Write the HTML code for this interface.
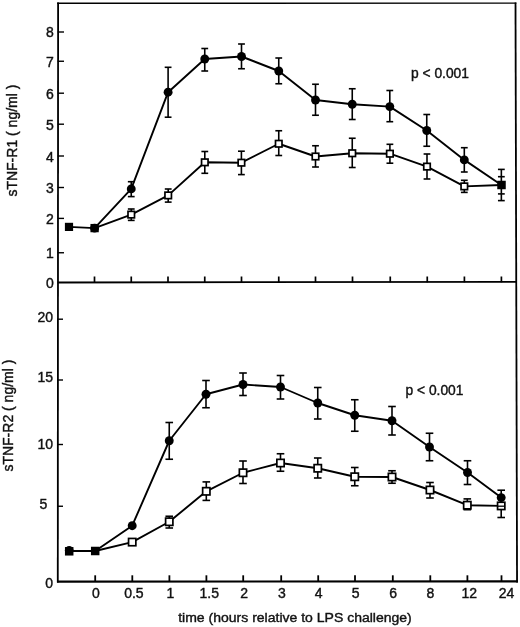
<!DOCTYPE html>
<html lang="en"><head><meta charset="utf-8"><title>sTNF-R1 and sTNF-R2 after LPS challenge</title>
<style>
html,body{margin:0;padding:0;background:#fff;}
body{width:520px;height:627px;overflow:hidden;}
svg{display:block;font-family:"Liberation Sans", Arial, Helvetica, sans-serif;fill:#111;}
text{stroke:#111;stroke-width:0.4px;}
</style></head><body>
<svg width="520" height="627" viewBox="0 0 520 627">
<rect x="0" y="0" width="520" height="627" fill="#fff"/>
<line x1="58.1" y1="2.6" x2="57.8" y2="582.5" stroke="#000" stroke-width="1.8"/>
<line x1="57.1" y1="3.3" x2="516.4" y2="3.1" stroke="#000" stroke-width="1.4"/>
<line x1="515.5" y1="2.5" x2="517.05" y2="582.4" stroke="#000" stroke-width="1.8"/>
<line x1="57" y1="581.6" x2="518" y2="581.4" stroke="#000" stroke-width="2.1"/>
<line x1="57.75" y1="282.5" x2="516" y2="281.8" stroke="#000" stroke-width="1.8"/>
<line x1="57.75" y1="32" x2="64" y2="32" stroke="#000" stroke-width="1.4"/>
<text x="53.8" y="37.3" text-anchor="end" font-size="14" >8</text>
<line x1="57.75" y1="61.25" x2="64" y2="61.25" stroke="#000" stroke-width="1.4"/>
<text x="53.8" y="66.75" text-anchor="end" font-size="14" >7</text>
<line x1="57.75" y1="93.2" x2="64" y2="93.2" stroke="#000" stroke-width="1.4"/>
<text x="53.8" y="98.7" text-anchor="end" font-size="14" >6</text>
<line x1="57.75" y1="124.2" x2="64" y2="124.2" stroke="#000" stroke-width="1.4"/>
<text x="53.8" y="129.7" text-anchor="end" font-size="14" >5</text>
<line x1="57.75" y1="156" x2="64" y2="156" stroke="#000" stroke-width="1.4"/>
<text x="53.8" y="161.5" text-anchor="end" font-size="14" >4</text>
<line x1="57.75" y1="187.5" x2="64" y2="187.5" stroke="#000" stroke-width="1.4"/>
<text x="53.8" y="193.0" text-anchor="end" font-size="14" >3</text>
<line x1="57.75" y1="218.4" x2="64" y2="218.4" stroke="#000" stroke-width="1.4"/>
<text x="53.8" y="223.9" text-anchor="end" font-size="14" >2</text>
<line x1="57.75" y1="252.75" x2="64" y2="252.75" stroke="#000" stroke-width="1.4"/>
<text x="53.8" y="258.25" text-anchor="end" font-size="14" >1</text>
<text x="53.8" y="288.2" text-anchor="end" font-size="14" >0</text>
<line x1="57.75" y1="319.2" x2="63" y2="319.2" stroke="#000" stroke-width="1.4"/>
<text x="53" y="322.2" text-anchor="end" font-size="14" >20</text>
<line x1="57.75" y1="380" x2="63" y2="380" stroke="#000" stroke-width="1.4"/>
<text x="53" y="381.5" text-anchor="end" font-size="14" >15</text>
<line x1="57.75" y1="444.5" x2="63" y2="444.5" stroke="#000" stroke-width="1.4"/>
<text x="53" y="448.5" text-anchor="end" font-size="14" >10</text>
<line x1="57.75" y1="506.25" x2="63" y2="506.25" stroke="#000" stroke-width="1.4"/>
<text x="47.2" y="508.55" text-anchor="end" font-size="14" >5</text>
<text x="53.0" y="588" text-anchor="end" font-size="14" >0</text>
<line x1="94.5" y1="276.5" x2="94.5" y2="282.3" stroke="#000" stroke-width="1.7"/>
<line x1="131.25" y1="276.5" x2="131.25" y2="282.3" stroke="#000" stroke-width="1.7"/>
<line x1="168" y1="276.5" x2="168" y2="282.3" stroke="#000" stroke-width="1.7"/>
<line x1="204.75" y1="276.5" x2="204.75" y2="282.3" stroke="#000" stroke-width="1.7"/>
<line x1="241.5" y1="276.5" x2="241.5" y2="282.3" stroke="#000" stroke-width="1.7"/>
<line x1="278.75" y1="276.5" x2="278.75" y2="282.3" stroke="#000" stroke-width="1.7"/>
<line x1="315.5" y1="276.5" x2="315.5" y2="282.3" stroke="#000" stroke-width="1.7"/>
<line x1="352.5" y1="276.5" x2="352.5" y2="282.3" stroke="#000" stroke-width="1.7"/>
<line x1="390.25" y1="276.5" x2="390.25" y2="282.3" stroke="#000" stroke-width="1.7"/>
<line x1="427.25" y1="276.5" x2="427.25" y2="282.3" stroke="#000" stroke-width="1.7"/>
<line x1="464.4" y1="276.5" x2="464.4" y2="282.3" stroke="#000" stroke-width="1.7"/>
<line x1="501.4" y1="276.5" x2="501.4" y2="282.3" stroke="#000" stroke-width="1.7"/>
<line x1="95.2" y1="575.3" x2="95.2" y2="581.5" stroke="#000" stroke-width="1.8"/>
<text x="95.8" y="598.0" text-anchor="middle" font-size="14" >0</text>
<line x1="132.3" y1="575.3" x2="132.3" y2="581.5" stroke="#000" stroke-width="1.8"/>
<text x="133.9" y="598.0" text-anchor="middle" font-size="14" >0.5</text>
<line x1="169.4" y1="575.3" x2="169.4" y2="581.5" stroke="#000" stroke-width="1.8"/>
<text x="170.3" y="598.0" text-anchor="middle" font-size="14" >1</text>
<line x1="206.4" y1="575.3" x2="206.4" y2="581.5" stroke="#000" stroke-width="1.8"/>
<text x="209.2" y="598.0" text-anchor="middle" font-size="14" >1.5</text>
<line x1="243.2" y1="575.3" x2="243.2" y2="581.5" stroke="#000" stroke-width="1.8"/>
<text x="244.1" y="598.0" text-anchor="middle" font-size="14" >2</text>
<line x1="281.2" y1="575.3" x2="281.2" y2="581.5" stroke="#000" stroke-width="1.8"/>
<text x="281.9" y="598.0" text-anchor="middle" font-size="14" >3</text>
<line x1="318.2" y1="575.3" x2="318.2" y2="581.5" stroke="#000" stroke-width="1.8"/>
<text x="318.7" y="598.0" text-anchor="middle" font-size="14" >4</text>
<line x1="355" y1="575.3" x2="355" y2="581.5" stroke="#000" stroke-width="1.8"/>
<text x="355.6" y="598.0" text-anchor="middle" font-size="14" >5</text>
<line x1="392.8" y1="575.3" x2="392.8" y2="581.5" stroke="#000" stroke-width="1.8"/>
<text x="393.2" y="598.0" text-anchor="middle" font-size="14" >6</text>
<line x1="430.3" y1="575.3" x2="430.3" y2="581.5" stroke="#000" stroke-width="1.8"/>
<text x="430.4" y="598.0" text-anchor="middle" font-size="14" >8</text>
<line x1="467.4" y1="575.3" x2="467.4" y2="581.5" stroke="#000" stroke-width="1.8"/>
<text x="469.2" y="598.0" text-anchor="middle" font-size="14" >12</text>
<line x1="501.5" y1="575.3" x2="501.5" y2="581.5" stroke="#000" stroke-width="1.8"/>
<text x="506.5" y="598.0" text-anchor="middle" font-size="14" >24</text>
<polyline points="69,226.9 94.6,228.1 131.25,188.9 168.1,92.2 204.75,59 241.5,56.5 278.75,71 315.5,100 352.25,104.25 389.8,106.6 426.75,130.5 464.3,159.9 501.4,185" fill="none" stroke="#000" stroke-width="1.9" stroke-linejoin="round"/>
<polyline points="94.6,228.1 131.25,214.6 168.2,195.4 204.8,162.3 241.4,162.7 278.75,143.75 315.5,156.5 352.25,153.25 389.9,153.7 427,166.6 464.3,186.4 501.4,185" fill="none" stroke="#000" stroke-width="1.9" stroke-linejoin="round"/>
<line x1="131.25" y1="181.7" x2="131.25" y2="196.6" stroke="#000" stroke-width="1.6"/>
<line x1="127.85" y1="181.7" x2="134.65" y2="181.7" stroke="#000" stroke-width="1.6"/>
<line x1="127.85" y1="196.6" x2="134.65" y2="196.6" stroke="#000" stroke-width="1.6"/>
<line x1="168.1" y1="67.3" x2="168.1" y2="117.2" stroke="#000" stroke-width="1.6"/>
<line x1="164.7" y1="67.3" x2="171.5" y2="67.3" stroke="#000" stroke-width="1.6"/>
<line x1="164.7" y1="117.2" x2="171.5" y2="117.2" stroke="#000" stroke-width="1.6"/>
<line x1="204.75" y1="48.5" x2="204.75" y2="71" stroke="#000" stroke-width="1.6"/>
<line x1="201.35" y1="48.5" x2="208.15" y2="48.5" stroke="#000" stroke-width="1.6"/>
<line x1="201.35" y1="71" x2="208.15" y2="71" stroke="#000" stroke-width="1.6"/>
<line x1="241.5" y1="44" x2="241.5" y2="68.75" stroke="#000" stroke-width="1.6"/>
<line x1="238.1" y1="44" x2="244.9" y2="44" stroke="#000" stroke-width="1.6"/>
<line x1="238.1" y1="68.75" x2="244.9" y2="68.75" stroke="#000" stroke-width="1.6"/>
<line x1="278.75" y1="58" x2="278.75" y2="83.75" stroke="#000" stroke-width="1.6"/>
<line x1="275.35" y1="58" x2="282.15" y2="58" stroke="#000" stroke-width="1.6"/>
<line x1="275.35" y1="83.75" x2="282.15" y2="83.75" stroke="#000" stroke-width="1.6"/>
<line x1="315.5" y1="84.25" x2="315.5" y2="115.25" stroke="#000" stroke-width="1.6"/>
<line x1="312.1" y1="84.25" x2="318.9" y2="84.25" stroke="#000" stroke-width="1.6"/>
<line x1="312.1" y1="115.25" x2="318.9" y2="115.25" stroke="#000" stroke-width="1.6"/>
<line x1="352.25" y1="88.75" x2="352.25" y2="119.5" stroke="#000" stroke-width="1.6"/>
<line x1="348.85" y1="88.75" x2="355.65" y2="88.75" stroke="#000" stroke-width="1.6"/>
<line x1="348.85" y1="119.5" x2="355.65" y2="119.5" stroke="#000" stroke-width="1.6"/>
<line x1="389.8" y1="90.5" x2="389.8" y2="121.7" stroke="#000" stroke-width="1.6"/>
<line x1="386.40000000000003" y1="90.5" x2="393.2" y2="90.5" stroke="#000" stroke-width="1.6"/>
<line x1="386.40000000000003" y1="121.7" x2="393.2" y2="121.7" stroke="#000" stroke-width="1.6"/>
<line x1="426.75" y1="114.5" x2="426.75" y2="146.25" stroke="#000" stroke-width="1.6"/>
<line x1="423.35" y1="114.5" x2="430.15" y2="114.5" stroke="#000" stroke-width="1.6"/>
<line x1="423.35" y1="146.25" x2="430.15" y2="146.25" stroke="#000" stroke-width="1.6"/>
<line x1="464.3" y1="147.7" x2="464.3" y2="172" stroke="#000" stroke-width="1.6"/>
<line x1="460.90000000000003" y1="147.7" x2="467.7" y2="147.7" stroke="#000" stroke-width="1.6"/>
<line x1="460.90000000000003" y1="172" x2="467.7" y2="172" stroke="#000" stroke-width="1.6"/>
<line x1="131.25" y1="209" x2="131.25" y2="220.4" stroke="#000" stroke-width="1.6"/>
<line x1="127.85" y1="209" x2="134.65" y2="209" stroke="#000" stroke-width="1.6"/>
<line x1="127.85" y1="220.4" x2="134.65" y2="220.4" stroke="#000" stroke-width="1.6"/>
<line x1="168.2" y1="189" x2="168.2" y2="202.1" stroke="#000" stroke-width="1.6"/>
<line x1="164.79999999999998" y1="189" x2="171.6" y2="189" stroke="#000" stroke-width="1.6"/>
<line x1="164.79999999999998" y1="202.1" x2="171.6" y2="202.1" stroke="#000" stroke-width="1.6"/>
<line x1="204.8" y1="151.5" x2="204.8" y2="173.3" stroke="#000" stroke-width="1.6"/>
<line x1="201.4" y1="151.5" x2="208.20000000000002" y2="151.5" stroke="#000" stroke-width="1.6"/>
<line x1="201.4" y1="173.3" x2="208.20000000000002" y2="173.3" stroke="#000" stroke-width="1.6"/>
<line x1="241.4" y1="151.2" x2="241.4" y2="174.6" stroke="#000" stroke-width="1.6"/>
<line x1="238.0" y1="151.2" x2="244.8" y2="151.2" stroke="#000" stroke-width="1.6"/>
<line x1="238.0" y1="174.6" x2="244.8" y2="174.6" stroke="#000" stroke-width="1.6"/>
<line x1="278.75" y1="130.75" x2="278.75" y2="155.5" stroke="#000" stroke-width="1.6"/>
<line x1="275.35" y1="130.75" x2="282.15" y2="130.75" stroke="#000" stroke-width="1.6"/>
<line x1="275.35" y1="155.5" x2="282.15" y2="155.5" stroke="#000" stroke-width="1.6"/>
<line x1="315.5" y1="145.75" x2="315.5" y2="167" stroke="#000" stroke-width="1.6"/>
<line x1="312.1" y1="145.75" x2="318.9" y2="145.75" stroke="#000" stroke-width="1.6"/>
<line x1="312.1" y1="167" x2="318.9" y2="167" stroke="#000" stroke-width="1.6"/>
<line x1="352.25" y1="138.25" x2="352.25" y2="167.5" stroke="#000" stroke-width="1.6"/>
<line x1="348.85" y1="138.25" x2="355.65" y2="138.25" stroke="#000" stroke-width="1.6"/>
<line x1="348.85" y1="167.5" x2="355.65" y2="167.5" stroke="#000" stroke-width="1.6"/>
<line x1="389.9" y1="144.3" x2="389.9" y2="163.2" stroke="#000" stroke-width="1.6"/>
<line x1="386.5" y1="144.3" x2="393.29999999999995" y2="144.3" stroke="#000" stroke-width="1.6"/>
<line x1="386.5" y1="163.2" x2="393.29999999999995" y2="163.2" stroke="#000" stroke-width="1.6"/>
<line x1="427" y1="154" x2="427" y2="179" stroke="#000" stroke-width="1.6"/>
<line x1="423.6" y1="154" x2="430.4" y2="154" stroke="#000" stroke-width="1.6"/>
<line x1="423.6" y1="179" x2="430.4" y2="179" stroke="#000" stroke-width="1.6"/>
<line x1="464.3" y1="180.3" x2="464.3" y2="192.4" stroke="#000" stroke-width="1.6"/>
<line x1="460.90000000000003" y1="180.3" x2="467.7" y2="180.3" stroke="#000" stroke-width="1.6"/>
<line x1="460.90000000000003" y1="192.4" x2="467.7" y2="192.4" stroke="#000" stroke-width="1.6"/>
<line x1="501.35" y1="169.4" x2="501.35" y2="200.6" stroke="#000" stroke-width="1.6"/>
<line x1="497.95000000000005" y1="169.4" x2="504.75" y2="169.4" stroke="#000" stroke-width="1.6"/>
<line x1="497.95000000000005" y1="200.6" x2="504.75" y2="200.6" stroke="#000" stroke-width="1.6"/>
<line x1="497.95000000000005" y1="176.7" x2="504.75" y2="176.7" stroke="#000" stroke-width="1.6"/>
<line x1="497.95000000000005" y1="193.9" x2="504.75" y2="193.9" stroke="#000" stroke-width="1.6"/>
<rect x="128.0" y="211.35" width="6.5" height="6.5" fill="#fff" stroke="#000" stroke-width="1.7"/>
<rect x="164.95" y="192.15" width="6.5" height="6.5" fill="#fff" stroke="#000" stroke-width="1.7"/>
<rect x="201.55" y="159.05" width="6.5" height="6.5" fill="#fff" stroke="#000" stroke-width="1.7"/>
<rect x="238.15" y="159.45" width="6.5" height="6.5" fill="#fff" stroke="#000" stroke-width="1.7"/>
<rect x="275.5" y="140.5" width="6.5" height="6.5" fill="#fff" stroke="#000" stroke-width="1.7"/>
<rect x="312.25" y="153.25" width="6.5" height="6.5" fill="#fff" stroke="#000" stroke-width="1.7"/>
<rect x="349.0" y="150.0" width="6.5" height="6.5" fill="#fff" stroke="#000" stroke-width="1.7"/>
<rect x="386.65" y="150.45" width="6.5" height="6.5" fill="#fff" stroke="#000" stroke-width="1.7"/>
<rect x="423.75" y="163.35" width="6.5" height="6.5" fill="#fff" stroke="#000" stroke-width="1.7"/>
<rect x="461.05" y="183.15" width="6.5" height="6.5" fill="#fff" stroke="#000" stroke-width="1.7"/>
<circle cx="131.25" cy="188.9" r="4.45" fill="#000"/>
<circle cx="168.1" cy="92.2" r="4.45" fill="#000"/>
<circle cx="204.75" cy="59" r="4.45" fill="#000"/>
<circle cx="241.5" cy="56.5" r="4.45" fill="#000"/>
<circle cx="278.75" cy="71" r="4.45" fill="#000"/>
<circle cx="315.5" cy="100" r="4.45" fill="#000"/>
<circle cx="352.25" cy="104.25" r="4.45" fill="#000"/>
<circle cx="389.8" cy="106.6" r="4.45" fill="#000"/>
<circle cx="426.75" cy="130.5" r="4.45" fill="#000"/>
<circle cx="464.3" cy="159.9" r="4.45" fill="#000"/>
<rect x="65.75" y="223.65" width="6.5" height="6.5" fill="#000" stroke="#000" stroke-width="1.7"/>
<rect x="91.3" y="224.79999999999998" width="6.6" height="6.6" fill="#000" stroke="#000" stroke-width="1.7"/>
<circle cx="94.6" cy="228.1" r="4.45" fill="#000"/>
<rect x="498.1" y="181.6" width="6.8" height="6.8" fill="#000" stroke="#000" stroke-width="1.7"/>
<polyline points="69.2,551 95.2,551 132.2,525.7 169.25,440.75 206,394.25 243,384.5 280.5,387 317.75,403 354.75,415.25 392,420.75 429.5,447 467.5,472.5 501.2,497.6" fill="none" stroke="#000" stroke-width="1.9" stroke-linejoin="round"/>
<polyline points="95.2,551 132.2,542.1 169.25,521.75 206.3,491.3 243,472.75 280.5,463 317.75,468.25 354.75,476.75 392,477 430,490 467.3,505.2 501.2,505.9" fill="none" stroke="#000" stroke-width="1.9" stroke-linejoin="round"/>
<line x1="169.25" y1="422.5" x2="169.25" y2="459.25" stroke="#000" stroke-width="1.6"/>
<line x1="165.45" y1="422.5" x2="173.05" y2="422.5" stroke="#000" stroke-width="1.6"/>
<line x1="165.45" y1="459.25" x2="173.05" y2="459.25" stroke="#000" stroke-width="1.6"/>
<line x1="206" y1="380.5" x2="206" y2="407.75" stroke="#000" stroke-width="1.6"/>
<line x1="202.2" y1="380.5" x2="209.8" y2="380.5" stroke="#000" stroke-width="1.6"/>
<line x1="202.2" y1="407.75" x2="209.8" y2="407.75" stroke="#000" stroke-width="1.6"/>
<line x1="243" y1="373" x2="243" y2="395.5" stroke="#000" stroke-width="1.6"/>
<line x1="239.2" y1="373" x2="246.8" y2="373" stroke="#000" stroke-width="1.6"/>
<line x1="239.2" y1="395.5" x2="246.8" y2="395.5" stroke="#000" stroke-width="1.6"/>
<line x1="280.5" y1="375.5" x2="280.5" y2="399" stroke="#000" stroke-width="1.6"/>
<line x1="276.7" y1="375.5" x2="284.3" y2="375.5" stroke="#000" stroke-width="1.6"/>
<line x1="276.7" y1="399" x2="284.3" y2="399" stroke="#000" stroke-width="1.6"/>
<line x1="317.75" y1="387.5" x2="317.75" y2="419" stroke="#000" stroke-width="1.6"/>
<line x1="313.95" y1="387.5" x2="321.55" y2="387.5" stroke="#000" stroke-width="1.6"/>
<line x1="313.95" y1="419" x2="321.55" y2="419" stroke="#000" stroke-width="1.6"/>
<line x1="354.75" y1="399.75" x2="354.75" y2="431.25" stroke="#000" stroke-width="1.6"/>
<line x1="350.95" y1="399.75" x2="358.55" y2="399.75" stroke="#000" stroke-width="1.6"/>
<line x1="350.95" y1="431.25" x2="358.55" y2="431.25" stroke="#000" stroke-width="1.6"/>
<line x1="392" y1="406.5" x2="392" y2="435" stroke="#000" stroke-width="1.6"/>
<line x1="388.2" y1="406.5" x2="395.8" y2="406.5" stroke="#000" stroke-width="1.6"/>
<line x1="388.2" y1="435" x2="395.8" y2="435" stroke="#000" stroke-width="1.6"/>
<line x1="429.5" y1="433.25" x2="429.5" y2="460.75" stroke="#000" stroke-width="1.6"/>
<line x1="425.7" y1="433.25" x2="433.3" y2="433.25" stroke="#000" stroke-width="1.6"/>
<line x1="425.7" y1="460.75" x2="433.3" y2="460.75" stroke="#000" stroke-width="1.6"/>
<line x1="467.5" y1="460.75" x2="467.5" y2="484.5" stroke="#000" stroke-width="1.6"/>
<line x1="463.7" y1="460.75" x2="471.3" y2="460.75" stroke="#000" stroke-width="1.6"/>
<line x1="463.7" y1="484.5" x2="471.3" y2="484.5" stroke="#000" stroke-width="1.6"/>
<line x1="501.2" y1="490.2" x2="501.2" y2="506" stroke="#000" stroke-width="1.6"/>
<line x1="497.4" y1="490.2" x2="505.0" y2="490.2" stroke="#000" stroke-width="1.6"/>
<line x1="497.4" y1="506" x2="505.0" y2="506" stroke="#000" stroke-width="1.6"/>
<line x1="169.25" y1="516.25" x2="169.25" y2="528" stroke="#000" stroke-width="1.6"/>
<line x1="165.45" y1="516.25" x2="173.05" y2="516.25" stroke="#000" stroke-width="1.6"/>
<line x1="165.45" y1="528" x2="173.05" y2="528" stroke="#000" stroke-width="1.6"/>
<line x1="206.3" y1="481.9" x2="206.3" y2="500.4" stroke="#000" stroke-width="1.6"/>
<line x1="202.5" y1="481.9" x2="210.10000000000002" y2="481.9" stroke="#000" stroke-width="1.6"/>
<line x1="202.5" y1="500.4" x2="210.10000000000002" y2="500.4" stroke="#000" stroke-width="1.6"/>
<line x1="243" y1="461" x2="243" y2="483.5" stroke="#000" stroke-width="1.6"/>
<line x1="239.2" y1="461" x2="246.8" y2="461" stroke="#000" stroke-width="1.6"/>
<line x1="239.2" y1="483.5" x2="246.8" y2="483.5" stroke="#000" stroke-width="1.6"/>
<line x1="280.5" y1="453.75" x2="280.5" y2="471.25" stroke="#000" stroke-width="1.6"/>
<line x1="276.7" y1="453.75" x2="284.3" y2="453.75" stroke="#000" stroke-width="1.6"/>
<line x1="276.7" y1="471.25" x2="284.3" y2="471.25" stroke="#000" stroke-width="1.6"/>
<line x1="317.75" y1="458" x2="317.75" y2="478" stroke="#000" stroke-width="1.6"/>
<line x1="313.95" y1="458" x2="321.55" y2="458" stroke="#000" stroke-width="1.6"/>
<line x1="313.95" y1="478" x2="321.55" y2="478" stroke="#000" stroke-width="1.6"/>
<line x1="354.75" y1="467.5" x2="354.75" y2="485.75" stroke="#000" stroke-width="1.6"/>
<line x1="350.95" y1="467.5" x2="358.55" y2="467.5" stroke="#000" stroke-width="1.6"/>
<line x1="350.95" y1="485.75" x2="358.55" y2="485.75" stroke="#000" stroke-width="1.6"/>
<line x1="392" y1="470.75" x2="392" y2="483.25" stroke="#000" stroke-width="1.6"/>
<line x1="388.2" y1="470.75" x2="395.8" y2="470.75" stroke="#000" stroke-width="1.6"/>
<line x1="388.2" y1="483.25" x2="395.8" y2="483.25" stroke="#000" stroke-width="1.6"/>
<line x1="430" y1="482.5" x2="430" y2="498" stroke="#000" stroke-width="1.6"/>
<line x1="426.2" y1="482.5" x2="433.8" y2="482.5" stroke="#000" stroke-width="1.6"/>
<line x1="426.2" y1="498" x2="433.8" y2="498" stroke="#000" stroke-width="1.6"/>
<line x1="467.3" y1="498.9" x2="467.3" y2="509.7" stroke="#000" stroke-width="1.6"/>
<line x1="463.5" y1="498.9" x2="471.1" y2="498.9" stroke="#000" stroke-width="1.6"/>
<line x1="463.5" y1="509.7" x2="471.1" y2="509.7" stroke="#000" stroke-width="1.6"/>
<line x1="501.2" y1="497" x2="501.2" y2="517.5" stroke="#000" stroke-width="1.6"/>
<line x1="497.4" y1="497" x2="505.0" y2="497" stroke="#000" stroke-width="1.6"/>
<line x1="497.4" y1="517.5" x2="505.0" y2="517.5" stroke="#000" stroke-width="1.6"/>
<rect x="128.54999999999998" y="538.45" width="7.3" height="7.3" fill="#fff" stroke="#000" stroke-width="1.7"/>
<rect x="165.6" y="518.1" width="7.3" height="7.3" fill="#fff" stroke="#000" stroke-width="1.7"/>
<rect x="202.65" y="487.65000000000003" width="7.3" height="7.3" fill="#fff" stroke="#000" stroke-width="1.7"/>
<rect x="239.35" y="469.1" width="7.3" height="7.3" fill="#fff" stroke="#000" stroke-width="1.7"/>
<rect x="276.85" y="459.35" width="7.3" height="7.3" fill="#fff" stroke="#000" stroke-width="1.7"/>
<rect x="314.1" y="464.6" width="7.3" height="7.3" fill="#fff" stroke="#000" stroke-width="1.7"/>
<rect x="351.1" y="473.1" width="7.3" height="7.3" fill="#fff" stroke="#000" stroke-width="1.7"/>
<rect x="388.35" y="473.35" width="7.3" height="7.3" fill="#fff" stroke="#000" stroke-width="1.7"/>
<rect x="426.35" y="486.35" width="7.3" height="7.3" fill="#fff" stroke="#000" stroke-width="1.7"/>
<rect x="463.65000000000003" y="501.55" width="7.3" height="7.3" fill="#fff" stroke="#000" stroke-width="1.7"/>
<rect x="497.55" y="502.25" width="7.3" height="7.3" fill="#fff" stroke="#000" stroke-width="1.7"/>
<circle cx="132.2" cy="525.7" r="4.45" fill="#000"/>
<circle cx="169.25" cy="440.75" r="4.45" fill="#000"/>
<circle cx="206" cy="394.25" r="4.45" fill="#000"/>
<circle cx="243" cy="384.5" r="4.45" fill="#000"/>
<circle cx="280.5" cy="387" r="4.45" fill="#000"/>
<circle cx="317.75" cy="403" r="4.45" fill="#000"/>
<circle cx="354.75" cy="415.25" r="4.45" fill="#000"/>
<circle cx="392" cy="420.75" r="4.45" fill="#000"/>
<circle cx="429.5" cy="447" r="4.45" fill="#000"/>
<circle cx="467.5" cy="472.5" r="4.45" fill="#000"/>
<circle cx="501.2" cy="497.6" r="4.45" fill="#000"/>
<line x1="498" y1="506.2" x2="504.4" y2="506.2" stroke="#000" stroke-width="1.3"/>
<rect x="65.8" y="547.9" width="6.8" height="6.8" fill="#000" stroke="#000" stroke-width="1.7"/>
<circle cx="69.2" cy="550.2" r="4.3" fill="#000"/>
<rect x="91.8" y="547.6" width="6.8" height="6.8" fill="#000" stroke="#000" stroke-width="1.7"/>
<text x="411" y="77.5" text-anchor="start" font-size="13.8" >p &lt; 0.001</text>
<text x="405.5" y="394.5" text-anchor="start" font-size="13.8" >p &lt; 0.001</text>
<text x="178.2" y="622.3" text-anchor="start" font-size="13.7" textLength="233.6" lengthAdjust="spacingAndGlyphs">time (hours relative to LPS challenge)</text>
<text transform="translate(16.7,196.6) rotate(-90)" font-size="14">sTNF-R1 ( ng/ml )</text>
<text transform="translate(13.0,471.6) rotate(-90)" font-size="14">sTNF-R2 ( ng/ml )</text>
</svg>
</body></html>
